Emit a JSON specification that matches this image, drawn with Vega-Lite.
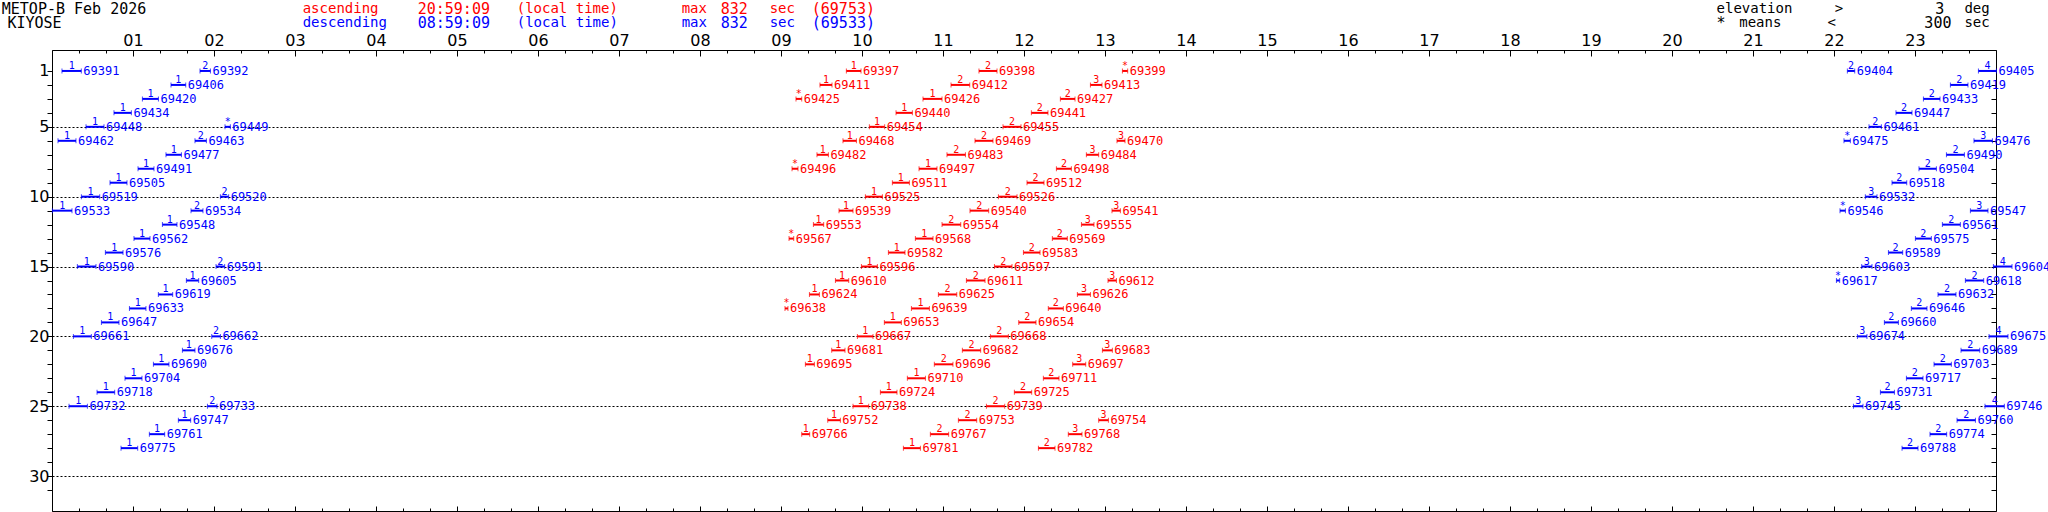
{
  "$schema": "https://vega.github.io/schema/vega-lite/v6.json",
  "width": 1944,
  "height": 461,
  "autosize": {"type": "none"},
  "padding": {"left": 52, "top": 50, "right": 52, "bottom": 1},
  "background": "white",
  "config": {"view": {"stroke": null}},
  "resolve": {"axis": {"x": "independent", "y": "independent"}},
  "datasets": {
    "passes": [
      {"d":1,"s":0.123,"e":0.362,"m":"1","o":"69391","k":"descending"},
      {"d":1,"s":1.827,"e":1.956,"m":"2","o":"69392","k":"descending"},
      {"d":2,"s":1.469,"e":1.651,"m":"1","o":"69406","k":"descending"},
      {"d":3,"s":1.116,"e":1.314,"m":"1","o":"69420","k":"descending"},
      {"d":4,"s":0.765,"e":0.980,"m":"1","o":"69434","k":"descending"},
      {"d":5,"s":0.420,"e":0.642,"m":"1","o":"69448","k":"descending"},
      {"d":5,"s":2.136,"e":2.202,"m":"*","o":"69449","k":"descending"},
      {"d":6,"s":0.074,"e":0.296,"m":"1","o":"69462","k":"descending"},
      {"d":6,"s":1.765,"e":1.906,"m":"2","o":"69463","k":"descending"},
      {"d":7,"s":1.407,"e":1.598,"m":"1","o":"69477","k":"descending"},
      {"d":8,"s":1.062,"e":1.259,"m":"1","o":"69491","k":"descending"},
      {"d":9,"s":0.716,"e":0.926,"m":"1","o":"69505","k":"descending"},
      {"d":10,"s":0.363,"e":0.589,"m":"1","o":"69519","k":"descending"},
      {"d":10,"s":2.079,"e":2.181,"m":"2","o":"69520","k":"descending"},
      {"d":11,"s":0.005,"e":0.247,"m":"1","o":"69533","k":"descending"},
      {"d":11,"s":1.716,"e":1.864,"m":"2","o":"69534","k":"descending"},
      {"d":12,"s":1.363,"e":1.543,"m":"1","o":"69548","k":"descending"},
      {"d":13,"s":1.012,"e":1.210,"m":"1","o":"69562","k":"descending"},
      {"d":14,"s":0.659,"e":0.877,"m":"1","o":"69576","k":"descending"},
      {"d":15,"s":0.313,"e":0.543,"m":"1","o":"69590","k":"descending"},
      {"d":15,"s":2.025,"e":2.132,"m":"2","o":"69591","k":"descending"},
      {"d":16,"s":1.659,"e":1.811,"m":"1","o":"69605","k":"descending"},
      {"d":17,"s":1.313,"e":1.490,"m":"1","o":"69619","k":"descending"},
      {"d":18,"s":0.956,"e":1.160,"m":"1","o":"69633","k":"descending"},
      {"d":19,"s":0.610,"e":0.827,"m":"1","o":"69647","k":"descending"},
      {"d":20,"s":0.264,"e":0.486,"m":"1","o":"69661","k":"descending"},
      {"d":20,"s":1.972,"e":2.079,"m":"2","o":"69662","k":"descending"},
      {"d":21,"s":1.610,"e":1.765,"m":"1","o":"69676","k":"descending"},
      {"d":22,"s":1.252,"e":1.444,"m":"1","o":"69690","k":"descending"},
      {"d":23,"s":0.901,"e":1.111,"m":"1","o":"69704","k":"descending"},
      {"d":24,"s":0.556,"e":0.774,"m":"1","o":"69718","k":"descending"},
      {"d":25,"s":0.210,"e":0.437,"m":"1","o":"69732","k":"descending"},
      {"d":25,"s":1.919,"e":2.037,"m":"2","o":"69733","k":"descending"},
      {"d":26,"s":1.560,"e":1.712,"m":"1","o":"69747","k":"descending"},
      {"d":27,"s":1.202,"e":1.391,"m":"1","o":"69761","k":"descending"},
      {"d":28,"s":0.852,"e":1.058,"m":"1","o":"69775","k":"descending"},

      {"d":1,"s":9.807,"e":9.988,"m":"1","o":"69397","k":"ascending"},
      {"d":1,"s":11.444,"e":11.667,"m":"2","o":"69398","k":"ascending"},
      {"d":1,"s":13.215,"e":13.280,"m":"*","o":"69399","k":"ascending"},
      {"d":2,"s":9.481,"e":9.630,"m":"1","o":"69411","k":"ascending"},
      {"d":2,"s":11.099,"e":11.330,"m":"2","o":"69412","k":"ascending"},
      {"d":2,"s":12.820,"e":12.963,"m":"3","o":"69413","k":"ascending"},
      {"d":3,"s":9.185,"e":9.256,"m":"*","o":"69425","k":"ascending"},
      {"d":3,"s":10.753,"e":10.988,"m":"1","o":"69426","k":"ascending"},
      {"d":3,"s":12.449,"e":12.630,"m":"2","o":"69427","k":"ascending"},
      {"d":4,"s":10.420,"e":10.622,"m":"1","o":"69440","k":"ascending"},
      {"d":4,"s":12.091,"e":12.296,"m":"2","o":"69441","k":"ascending"},
      {"d":5,"s":10.091,"e":10.280,"m":"1","o":"69454","k":"ascending"},
      {"d":5,"s":11.741,"e":11.963,"m":"2","o":"69455","k":"ascending"},
      {"d":6,"s":9.765,"e":9.931,"m":"1","o":"69468","k":"ascending"},
      {"d":6,"s":11.395,"e":11.617,"m":"2","o":"69469","k":"ascending"},
      {"d":6,"s":13.148,"e":13.247,"m":"3","o":"69470","k":"ascending"},
      {"d":7,"s":9.444,"e":9.585,"m":"1","o":"69482","k":"ascending"},
      {"d":7,"s":11.049,"e":11.277,"m":"2","o":"69483","k":"ascending"},
      {"d":7,"s":12.770,"e":12.922,"m":"3","o":"69484","k":"ascending"},
      {"d":8,"s":9.136,"e":9.210,"m":"*","o":"69496","k":"ascending"},
      {"d":8,"s":10.704,"e":10.926,"m":"1","o":"69497","k":"ascending"},
      {"d":8,"s":12.400,"e":12.585,"m":"2","o":"69498","k":"ascending"},
      {"d":9,"s":10.375,"e":10.585,"m":"1","o":"69511","k":"ascending"},
      {"d":9,"s":12.037,"e":12.247,"m":"2","o":"69512","k":"ascending"},
      {"d":10,"s":10.042,"e":10.252,"m":"1","o":"69525","k":"ascending"},
      {"d":10,"s":11.684,"e":11.914,"m":"2","o":"69526","k":"ascending"},
      {"d":11,"s":9.716,"e":9.889,"m":"1","o":"69539","k":"ascending"},
      {"d":11,"s":11.333,"e":11.564,"m":"2","o":"69540","k":"ascending"},
      {"d":11,"s":13.086,"e":13.190,"m":"3","o":"69541","k":"ascending"},
      {"d":12,"s":9.400,"e":9.527,"m":"1","o":"69553","k":"ascending"},
      {"d":12,"s":10.988,"e":11.219,"m":"2","o":"69554","k":"ascending"},
      {"d":12,"s":12.709,"e":12.864,"m":"3","o":"69555","k":"ascending"},
      {"d":13,"s":9.099,"e":9.157,"m":"*","o":"69567","k":"ascending"},
      {"d":13,"s":10.659,"e":10.877,"m":"1","o":"69568","k":"ascending"},
      {"d":13,"s":12.350,"e":12.535,"m":"2","o":"69569","k":"ascending"},
      {"d":14,"s":10.326,"e":10.531,"m":"1","o":"69582","k":"ascending"},
      {"d":14,"s":11.993,"e":12.198,"m":"2","o":"69583","k":"ascending"},
      {"d":15,"s":9.993,"e":10.190,"m":"1","o":"69596","k":"ascending"},
      {"d":15,"s":11.635,"e":11.852,"m":"2","o":"69597","k":"ascending"},
      {"d":16,"s":9.672,"e":9.836,"m":"1","o":"69610","k":"ascending"},
      {"d":16,"s":11.289,"e":11.519,"m":"2","o":"69611","k":"ascending"},
      {"d":16,"s":13.037,"e":13.141,"m":"3","o":"69612","k":"ascending"},
      {"d":17,"s":9.351,"e":9.474,"m":"1","o":"69624","k":"ascending"},
      {"d":17,"s":10.943,"e":11.170,"m":"2","o":"69625","k":"ascending"},
      {"d":17,"s":12.659,"e":12.820,"m":"3","o":"69626","k":"ascending"},
      {"d":18,"s":9.049,"e":9.086,"m":"*","o":"69638","k":"ascending"},
      {"d":18,"s":10.610,"e":10.832,"m":"1","o":"69639","k":"ascending"},
      {"d":18,"s":12.300,"e":12.486,"m":"2","o":"69640","k":"ascending"},
      {"d":19,"s":10.276,"e":10.486,"m":"1","o":"69653","k":"ascending"},
      {"d":19,"s":11.935,"e":12.148,"m":"2","o":"69654","k":"ascending"},
      {"d":20,"s":9.943,"e":10.136,"m":"1","o":"69667","k":"ascending"},
      {"d":20,"s":11.585,"e":11.807,"m":"2","o":"69668","k":"ascending"},
      {"d":21,"s":9.626,"e":9.790,"m":"1","o":"69681","k":"ascending"},
      {"d":21,"s":11.239,"e":11.465,"m":"2","o":"69682","k":"ascending"},
      {"d":21,"s":12.968,"e":13.091,"m":"3","o":"69683","k":"ascending"},
      {"d":22,"s":9.301,"e":9.412,"m":"1","o":"69695","k":"ascending"},
      {"d":22,"s":10.893,"e":11.123,"m":"2","o":"69696","k":"ascending"},
      {"d":22,"s":12.601,"e":12.762,"m":"3","o":"69697","k":"ascending"},
      {"d":23,"s":10.560,"e":10.783,"m":"1","o":"69710","k":"ascending"},
      {"d":23,"s":12.239,"e":12.432,"m":"2","o":"69711","k":"ascending"},
      {"d":24,"s":10.227,"e":10.432,"m":"1","o":"69724","k":"ascending"},
      {"d":24,"s":11.881,"e":12.095,"m":"2","o":"69725","k":"ascending"},
      {"d":25,"s":9.889,"e":10.083,"m":"1","o":"69738","k":"ascending"},
      {"d":25,"s":11.536,"e":11.762,"m":"2","o":"69739","k":"ascending"},
      {"d":26,"s":9.577,"e":9.733,"m":"1","o":"69752","k":"ascending"},
      {"d":26,"s":11.190,"e":11.416,"m":"2","o":"69753","k":"ascending"},
      {"d":26,"s":12.922,"e":13.042,"m":"3","o":"69754","k":"ascending"},
      {"d":27,"s":9.256,"e":9.354,"m":"1","o":"69766","k":"ascending"},
      {"d":27,"s":10.844,"e":11.070,"m":"2","o":"69767","k":"ascending"},
      {"d":27,"s":12.547,"e":12.716,"m":"3","o":"69768","k":"ascending"},
      {"d":28,"s":10.511,"e":10.721,"m":"1","o":"69781","k":"ascending"},
      {"d":28,"s":12.178,"e":12.383,"m":"2","o":"69782","k":"ascending"},

      {"d":1,"s":22.165,"e":22.256,"m":"2","o":"69404","k":"descending"},
      {"d":1,"s":23.783,"e":24.005,"m":"4","o":"69405","k":"descending"},
      {"d":2,"s":23.437,"e":23.654,"m":"2","o":"69419","k":"descending"},
      {"d":3,"s":23.104,"e":23.309,"m":"2","o":"69433","k":"descending"},
      {"d":4,"s":22.765,"e":22.963,"m":"2","o":"69447","k":"descending"},
      {"d":5,"s":22.432,"e":22.585,"m":"2","o":"69461","k":"descending"},
      {"d":6,"s":22.123,"e":22.202,"m":"*","o":"69475","k":"descending"},
      {"d":6,"s":23.728,"e":23.956,"m":"3","o":"69476","k":"descending"},
      {"d":7,"s":23.388,"e":23.610,"m":"2","o":"69490","k":"descending"},
      {"d":8,"s":23.049,"e":23.264,"m":"2","o":"69504","k":"descending"},
      {"d":9,"s":22.716,"e":22.898,"m":"2","o":"69518","k":"descending"},
      {"d":10,"s":22.387,"e":22.531,"m":"3","o":"69532","k":"descending"},
      {"d":11,"s":22.074,"e":22.141,"m":"*","o":"69546","k":"descending"},
      {"d":11,"s":23.684,"e":23.901,"m":"3","o":"69547","k":"descending"},
      {"d":12,"s":23.338,"e":23.560,"m":"2","o":"69561","k":"descending"},
      {"d":13,"s":23.005,"e":23.202,"m":"2","o":"69575","k":"descending"},
      {"d":14,"s":22.672,"e":22.848,"m":"2","o":"69589","k":"descending"},
      {"d":15,"s":22.342,"e":22.469,"m":"3","o":"69603","k":"descending"},
      {"d":15,"s":23.968,"e":24.198,"m":"4","o":"69604","k":"descending"},
      {"d":16,"s":22.030,"e":22.070,"m":"*","o":"69617","k":"descending"},
      {"d":16,"s":23.622,"e":23.848,"m":"2","o":"69618","k":"descending"},
      {"d":17,"s":23.284,"e":23.506,"m":"2","o":"69632","k":"descending"},
      {"d":18,"s":22.955,"e":23.148,"m":"2","o":"69646","k":"descending"},
      {"d":19,"s":22.622,"e":22.795,"m":"2","o":"69660","k":"descending"},
      {"d":20,"s":22.289,"e":22.407,"m":"3","o":"69674","k":"descending"},
      {"d":20,"s":23.914,"e":24.148,"m":"4","o":"69675","k":"descending"},
      {"d":21,"s":23.568,"e":23.799,"m":"2","o":"69689","k":"descending"},
      {"d":22,"s":23.235,"e":23.449,"m":"2","o":"69703","k":"descending"},
      {"d":23,"s":22.894,"e":23.099,"m":"2","o":"69717","k":"descending"},
      {"d":24,"s":22.573,"e":22.746,"m":"2","o":"69731","k":"descending"},
      {"d":25,"s":22.240,"e":22.358,"m":"3","o":"69745","k":"descending"},
      {"d":25,"s":23.864,"e":24.103,"m":"4","o":"69746","k":"descending"},
      {"d":26,"s":23.519,"e":23.746,"m":"2","o":"69760","k":"descending"},
      {"d":27,"s":23.185,"e":23.391,"m":"2","o":"69774","k":"descending"},
      {"d":28,"s":22.840,"e":23.037,"m":"2","o":"69788","k":"descending"}
    ]
  },
  "layer": [
    {
      "data": {"name": "passes"},
      "mark": {"type": "rule", "strokeWidth": 2},
      "encoding": {
        "x": {"field": "s", "type": "quantitative",
          "scale": {"domain": [0, 24], "nice": false, "zero": false},
          "axis": {"orient": "top", "title": null, "grid": false,
            "values": [0,0.333333,0.666667,1,1.333333,1.666667,2,2.333333,2.666667,3,3.333333,3.666667,4,4.333333,4.666667,5,5.333333,5.666667,6,6.333333,6.666667,7,7.333333,7.666667,8,8.333333,8.666667,9,9.333333,9.666667,10,10.333333,10.666667,11,11.333333,11.666667,12,12.333333,12.666667,13,13.333333,13.666667,14,14.333333,14.666667,15,15.333333,15.666667,16,16.333333,16.666667,17,17.333333,17.666667,18,18.333333,18.666667,19,19.333333,19.666667,20,20.333333,20.666667,21,21.333333,21.666667,22,22.333333,22.666667,23,23.333333,23.666667,24],
            "labelExpr": "datum.value % 1 === 0 && datum.value > 0 && datum.value < 24 ? (datum.value < 10 ? '0' + datum.value : '' + datum.value) : ''",
            "labelOverlap": false, "labelFlush": false, "labelBound": false,
            "labelFont": "DejaVu Sans", "labelFontSize": 16, "labelColor": "black",
            "labelPadding": 8,
            "tickSize": {"condition": {"test": "datum.value % 1 === 0", "value": -6}, "value": -3},
            "tickColor": "black", "tickWidth": 1, "domainColor": "black", "domainWidth": 1}},
        "x2": {"field": "e"},
        "y": {"field": "d", "type": "quantitative",
          "scale": {"domain": [-0.5, 32.5], "reverse": true, "nice": false, "zero": false},
          "axis": {"orient": "left", "title": null,
            "values": [1,2,3,4,5,6,7,8,9,10,11,12,13,14,15,16,17,18,19,20,21,22,23,24,25,26,27,28,29,30,31],
            "labelExpr": "datum.value == 1 || datum.value % 5 == 0 ? datum.label : ''",
            "labelOverlap": false, "labelFont": "DejaVu Sans", "labelFontSize": 16, "labelColor": "black",
            "labelPadding": -2, "tickSize": 5, "tickColor": "black", "domainColor": "black",
            "grid": true, "gridColor": "black", "gridDash": [2, 2], "gridWidth": 1,
            "gridOpacity": {"condition": {"test": "datum.value % 5 === 0", "value": 1}, "value": 0}}},
        "color": {"field": "k", "type": "nominal",
          "scale": {"domain": ["ascending", "descending"], "range": ["#ff0000", "#0000ff"]}, "legend": null}
      }
    },
    {
      "data": {"name": "passes"},
      "mark": {"type": "tick", "orient": "vertical", "size": 5, "thickness": 1},
      "encoding": {
        "x": {"field": "s", "type": "quantitative",
          "axis": {"orient": "bottom", "title": null, "grid": false, "labels": false,
            "values": [0,0.333333,0.666667,1,1.333333,1.666667,2,2.333333,2.666667,3,3.333333,3.666667,4,4.333333,4.666667,5,5.333333,5.666667,6,6.333333,6.666667,7,7.333333,7.666667,8,8.333333,8.666667,9,9.333333,9.666667,10,10.333333,10.666667,11,11.333333,11.666667,12,12.333333,12.666667,13,13.333333,13.666667,14,14.333333,14.666667,15,15.333333,15.666667,16,16.333333,16.666667,17,17.333333,17.666667,18,18.333333,18.666667,19,19.333333,19.666667,20,20.333333,20.666667,21,21.333333,21.666667,22,22.333333,22.666667,23,23.333333,23.666667,24],
            "tickSize": {"condition": {"test": "datum.value % 1 === 0", "value": -5}, "value": -3},
            "tickColor": "black", "domainColor": "black"}},
        "y": {"field": "d", "type": "quantitative",
          "axis": {"orient": "right", "title": null, "grid": false, "labels": false,
            "values": [1,2,3,4,5,6,7,8,9,10,11,12,13,14,15,16,17,18,19,20,21,22,23,24,25,26,27,28,29,30,31],
            "tickSize": -5, "tickColor": "black", "domainColor": "black"}},
        "color": {"field": "k", "type": "nominal", "legend": null}
      }
    },
    {
      "data": {"name": "passes"},
      "mark": {"type": "tick", "orient": "vertical", "size": 5, "thickness": 1},
      "encoding": {
        "x": {"field": "e", "type": "quantitative", "axis": null},
        "y": {"field": "d", "type": "quantitative", "axis": null},
        "color": {"field": "k", "type": "nominal", "legend": null}
      }
    },
    {
      "data": {"name": "passes"},
      "transform": [{"calculate": "(datum.s + datum.e) / 2", "as": "mid"}],
      "mark": {"type": "text", "align": "center", "baseline": "alphabetic", "dy": -2, "font": "DejaVu Sans Mono", "fontSize": 10},
      "encoding": {
        "x": {"field": "mid", "type": "quantitative", "axis": null},
        "y": {"field": "d", "type": "quantitative", "axis": null},
        "text": {"field": "m"},
        "color": {"field": "k", "type": "nominal", "legend": null}
      }
    },
    {
      "data": {"name": "passes"},
      "mark": {"type": "text", "align": "left", "baseline": "middle", "dx": 2, "font": "DejaVu Sans Mono", "fontSize": 12},
      "encoding": {
        "x": {"field": "e", "type": "quantitative", "axis": null},
        "y": {"field": "d", "type": "quantitative", "axis": null},
        "text": {"field": "o"},
        "color": {"field": "k", "type": "nominal", "legend": null}
      }
    },
    {"data": {"values": [{"t": "METOP-B Feb 2026"}]}, "mark": {"type": "text", "align": "left", "baseline": "middle", "font": "DejaVu Sans Mono", "fontSize": 15, "color": "black"},
     "encoding": {"x": {"datum": -0.62, "type": "quantitative", "axis": null}, "y": {"datum": -3.45, "type": "quantitative", "axis": null}, "text": {"field": "t"}}},
    {"data": {"values": [{"t": "KIYOSE"}]}, "mark": {"type": "text", "align": "left", "baseline": "middle", "font": "DejaVu Sans Mono", "fontSize": 15, "color": "black"},
     "encoding": {"x": {"datum": -0.55, "type": "quantitative", "axis": null}, "y": {"datum": -2.45, "type": "quantitative", "axis": null}, "text": {"field": "t"}}},

    {"data": {"values": [{"t": "ascending"}]}, "mark": {"type": "text", "align": "left", "baseline": "middle", "font": "DejaVu Sans Mono", "fontSize": 14, "color": "#ff0000"},
     "encoding": {"x": {"datum": 3.095, "type": "quantitative", "axis": null}, "y": {"datum": -3.45, "type": "quantitative", "axis": null}, "text": {"field": "t"}}},
    {"data": {"values": [{"t": "20:59:09"}]}, "mark": {"type": "text", "align": "left", "baseline": "middle", "font": "DejaVu Sans Mono", "fontSize": 15, "color": "#ff0000"},
     "encoding": {"x": {"datum": 4.515, "type": "quantitative", "axis": null}, "y": {"datum": -3.45, "type": "quantitative", "axis": null}, "text": {"field": "t"}}},
    {"data": {"values": [{"t": "(local time)"}]}, "mark": {"type": "text", "align": "left", "baseline": "middle", "font": "DejaVu Sans Mono", "fontSize": 14, "color": "#ff0000"},
     "encoding": {"x": {"datum": 5.737, "type": "quantitative", "axis": null}, "y": {"datum": -3.45, "type": "quantitative", "axis": null}, "text": {"field": "t"}}},
    {"data": {"values": [{"t": "max"}]}, "mark": {"type": "text", "align": "left", "baseline": "middle", "font": "DejaVu Sans Mono", "fontSize": 14, "color": "#ff0000"},
     "encoding": {"x": {"datum": 7.774, "type": "quantitative", "axis": null}, "y": {"datum": -3.45, "type": "quantitative", "axis": null}, "text": {"field": "t"}}},
    {"data": {"values": [{"t": "832"}]}, "mark": {"type": "text", "align": "left", "baseline": "middle", "font": "DejaVu Sans Mono", "fontSize": 15, "color": "#ff0000"},
     "encoding": {"x": {"datum": 8.256, "type": "quantitative", "axis": null}, "y": {"datum": -3.45, "type": "quantitative", "axis": null}, "text": {"field": "t"}}},
    {"data": {"values": [{"t": "sec"}]}, "mark": {"type": "text", "align": "left", "baseline": "middle", "font": "DejaVu Sans Mono", "fontSize": 14, "color": "#ff0000"},
     "encoding": {"x": {"datum": 8.86, "type": "quantitative", "axis": null}, "y": {"datum": -3.45, "type": "quantitative", "axis": null}, "text": {"field": "t"}}},
    {"data": {"values": [{"t": "(69753)"}]}, "mark": {"type": "text", "align": "left", "baseline": "middle", "font": "DejaVu Sans Mono", "fontSize": 15, "color": "#ff0000"},
     "encoding": {"x": {"datum": 9.38, "type": "quantitative", "axis": null}, "y": {"datum": -3.45, "type": "quantitative", "axis": null}, "text": {"field": "t"}}},

    {"data": {"values": [{"t": "descending"}]}, "mark": {"type": "text", "align": "left", "baseline": "middle", "font": "DejaVu Sans Mono", "fontSize": 14, "color": "#0000ff"},
     "encoding": {"x": {"datum": 3.095, "type": "quantitative", "axis": null}, "y": {"datum": -2.45, "type": "quantitative", "axis": null}, "text": {"field": "t"}}},
    {"data": {"values": [{"t": "08:59:09"}]}, "mark": {"type": "text", "align": "left", "baseline": "middle", "font": "DejaVu Sans Mono", "fontSize": 15, "color": "#0000ff"},
     "encoding": {"x": {"datum": 4.515, "type": "quantitative", "axis": null}, "y": {"datum": -2.45, "type": "quantitative", "axis": null}, "text": {"field": "t"}}},
    {"data": {"values": [{"t": "(local time)"}]}, "mark": {"type": "text", "align": "left", "baseline": "middle", "font": "DejaVu Sans Mono", "fontSize": 14, "color": "#0000ff"},
     "encoding": {"x": {"datum": 5.737, "type": "quantitative", "axis": null}, "y": {"datum": -2.45, "type": "quantitative", "axis": null}, "text": {"field": "t"}}},
    {"data": {"values": [{"t": "max"}]}, "mark": {"type": "text", "align": "left", "baseline": "middle", "font": "DejaVu Sans Mono", "fontSize": 14, "color": "#0000ff"},
     "encoding": {"x": {"datum": 7.774, "type": "quantitative", "axis": null}, "y": {"datum": -2.45, "type": "quantitative", "axis": null}, "text": {"field": "t"}}},
    {"data": {"values": [{"t": "832"}]}, "mark": {"type": "text", "align": "left", "baseline": "middle", "font": "DejaVu Sans Mono", "fontSize": 15, "color": "#0000ff"},
     "encoding": {"x": {"datum": 8.256, "type": "quantitative", "axis": null}, "y": {"datum": -2.45, "type": "quantitative", "axis": null}, "text": {"field": "t"}}},
    {"data": {"values": [{"t": "sec"}]}, "mark": {"type": "text", "align": "left", "baseline": "middle", "font": "DejaVu Sans Mono", "fontSize": 14, "color": "#0000ff"},
     "encoding": {"x": {"datum": 8.86, "type": "quantitative", "axis": null}, "y": {"datum": -2.45, "type": "quantitative", "axis": null}, "text": {"field": "t"}}},
    {"data": {"values": [{"t": "(69533)"}]}, "mark": {"type": "text", "align": "left", "baseline": "middle", "font": "DejaVu Sans Mono", "fontSize": 15, "color": "#0000ff"},
     "encoding": {"x": {"datum": 9.38, "type": "quantitative", "axis": null}, "y": {"datum": -2.45, "type": "quantitative", "axis": null}, "text": {"field": "t"}}},

    {"data": {"values": [{"t": "elevation"}]}, "mark": {"type": "text", "align": "left", "baseline": "middle", "font": "DejaVu Sans Mono", "fontSize": 14, "color": "black"},
     "encoding": {"x": {"datum": 20.55, "type": "quantitative", "axis": null}, "y": {"datum": -3.45, "type": "quantitative", "axis": null}, "text": {"field": "t"}}},
    {"data": {"values": [{"t": ">"}]}, "mark": {"type": "text", "align": "left", "baseline": "middle", "font": "DejaVu Sans Mono", "fontSize": 14, "color": "black"},
     "encoding": {"x": {"datum": 22.01, "type": "quantitative", "axis": null}, "y": {"datum": -3.45, "type": "quantitative", "axis": null}, "text": {"field": "t"}}},
    {"data": {"values": [{"t": "3"}]}, "mark": {"type": "text", "align": "right", "baseline": "middle", "font": "DejaVu Sans Mono", "fontSize": 15, "color": "black"},
     "encoding": {"x": {"datum": 23.36, "type": "quantitative", "axis": null}, "y": {"datum": -3.45, "type": "quantitative", "axis": null}, "text": {"field": "t"}}},
    {"data": {"values": [{"t": "deg"}]}, "mark": {"type": "text", "align": "left", "baseline": "middle", "font": "DejaVu Sans Mono", "fontSize": 14, "color": "black"},
     "encoding": {"x": {"datum": 23.61, "type": "quantitative", "axis": null}, "y": {"datum": -3.45, "type": "quantitative", "axis": null}, "text": {"field": "t"}}},
    {"data": {"values": [{"t": "*"}]}, "mark": {"type": "text", "align": "left", "baseline": "middle", "font": "DejaVu Sans Mono", "fontSize": 15, "color": "black"},
     "encoding": {"x": {"datum": 20.55, "type": "quantitative", "axis": null}, "y": {"datum": -2.45, "type": "quantitative", "axis": null}, "text": {"field": "t"}}},
    {"data": {"values": [{"t": "means"}]}, "mark": {"type": "text", "align": "left", "baseline": "middle", "font": "DejaVu Sans Mono", "fontSize": 14, "color": "black"},
     "encoding": {"x": {"datum": 20.83, "type": "quantitative", "axis": null}, "y": {"datum": -2.45, "type": "quantitative", "axis": null}, "text": {"field": "t"}}},
    {"data": {"values": [{"t": "<"}]}, "mark": {"type": "text", "align": "left", "baseline": "middle", "font": "DejaVu Sans Mono", "fontSize": 14, "color": "black"},
     "encoding": {"x": {"datum": 21.92, "type": "quantitative", "axis": null}, "y": {"datum": -2.45, "type": "quantitative", "axis": null}, "text": {"field": "t"}}},
    {"data": {"values": [{"t": "300"}]}, "mark": {"type": "text", "align": "right", "baseline": "middle", "font": "DejaVu Sans Mono", "fontSize": 15, "color": "black"},
     "encoding": {"x": {"datum": 23.45, "type": "quantitative", "axis": null}, "y": {"datum": -2.45, "type": "quantitative", "axis": null}, "text": {"field": "t"}}},
    {"data": {"values": [{"t": "sec"}]}, "mark": {"type": "text", "align": "left", "baseline": "middle", "font": "DejaVu Sans Mono", "fontSize": 14, "color": "black"},
     "encoding": {"x": {"datum": 23.61, "type": "quantitative", "axis": null}, "y": {"datum": -2.45, "type": "quantitative", "axis": null}, "text": {"field": "t"}}}
  ]
}
